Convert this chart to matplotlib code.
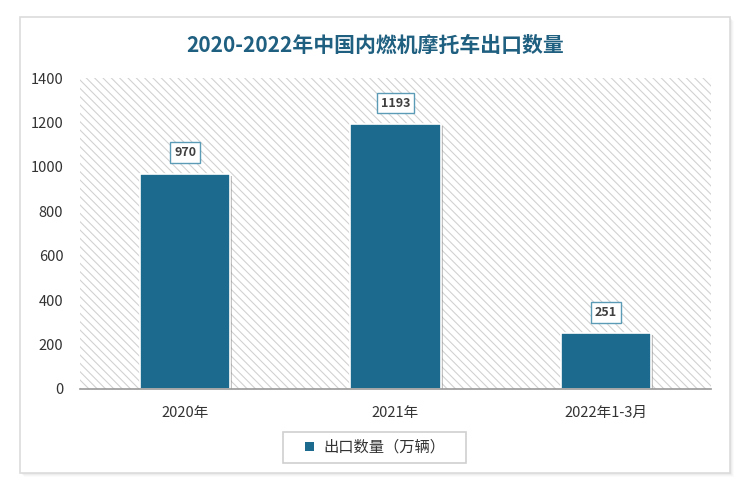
import matplotlib
matplotlib.use("Agg")
import matplotlib.pyplot as plt
import matplotlib.patheffects as pe
from matplotlib.patches import Rectangle, Patch

plt.rcParams['font.family'] = ['Noto Sans CJK SC', 'DejaVu Sans']
plt.rcParams['hatch.color'] = '#d2d2d2'
plt.rcParams['hatch.linewidth'] = 0.8

categories = ['2020年', '2021年', '2022年1-3月']
values = [970, 1193, 251]
yticks = [0, 200, 400, 600, 800, 1000, 1200, 1400]
title = '2020-2022年中国内燃机摩托车出口数量'
legend_label = '出口数量（万辆）'

bar_color = '#1c6b8f'
fig = plt.figure(figsize=(7.5, 4.91), dpi=100)

# outer frame with soft shadow
for i, a in enumerate([0.10, 0.08, 0.06, 0.04]):
    sh = Rectangle((20/750 + (i+1)/750, 1-473/491 - (i+1)/491), 710/750, 456/491, transform=fig.transFigure,
                   facecolor='#999999', edgecolor='none', alpha=a, zorder=-12)
    fig.patches.append(sh)
frame = Rectangle((20/750, 1-473/491), 710/750, 456/491, transform=fig.transFigure,
                  facecolor='white', edgecolor='#dcdcdc', linewidth=1.2, zorder=-10)
fig.patches.append(frame)

ax = fig.add_axes([80/750, 1-389/491, 631/750, 311/491])
ax.set_zorder(1)
ax.patch.set_facecolor('white')
ax.patch.set_hatch('\\' * 4)
ax.patch.set_edgecolor('#d2d2d2')
ax.patch.set_linewidth(0)

x = list(range(len(categories)))
bars = ax.bar(x, values, width=0.43, color=bar_color, edgecolor='white', linewidth=1.2, zorder=3)
for b in bars:
    b.set_path_effects([pe.SimplePatchShadow(offset=(1.5, -1.5), shadow_rgbFace='#888888', alpha=0.5), pe.Normal()])

for xi, v in zip(x, values):
    ax.annotate(str(v), (xi, v), xytext=(0, 15), textcoords='offset points', ha='center', va='center',
                fontsize=9, fontweight='bold', color='#404040', zorder=5,
                bbox=dict(boxstyle='square,pad=0.3', facecolor='white', edgecolor='#5b9bb5', linewidth=1))

ax.set_xlim(-0.5, 2.5)
ax.set_ylim(0, 1400)
ax.set_yticks(yticks)
ax.set_yticklabels([str(t) for t in yticks], fontsize=10.5, color='#333333')
ax.set_xticks(x)
ax.set_xticklabels(categories, fontsize=10.5, color='#333333')
ax.tick_params(axis='both', length=0)
ax.tick_params(axis='y', pad=12)
ax.tick_params(axis='x', pad=12)
for s in ['top', 'right', 'left']:
    ax.spines[s].set_visible(False)
ax.spines['bottom'].set_color('#999999')
ax.spines['bottom'].set_linewidth(1.2)
ax.spines['bottom'].set_zorder(4)

fig.text(0.5, 1-45/491, title, ha='center', va='center', fontsize=15, fontweight='bold', color='#1f5f80', zorder=5)

# legend box
lbox = Rectangle((283/750, 1-463/491), 183/750, 31/491, transform=fig.transFigure,
                 facecolor='white', edgecolor='#d0d0d0', linewidth=1.2, zorder=4)
fig.patches.append(lbox)
handle = Patch(facecolor=bar_color, edgecolor='none')
leg = fig.legend([handle], [legend_label], loc='center', bbox_to_anchor=(375/750, 1-447.5/491),
                 fontsize=11, frameon=False,
                 handlelength=0.6, handleheight=0.6, borderpad=0.2, handletextpad=0.6)
leg.set_zorder(5)
for t in leg.get_texts():
    t.set_color('#333333')

fig.savefig('out.png', dpi=100)
